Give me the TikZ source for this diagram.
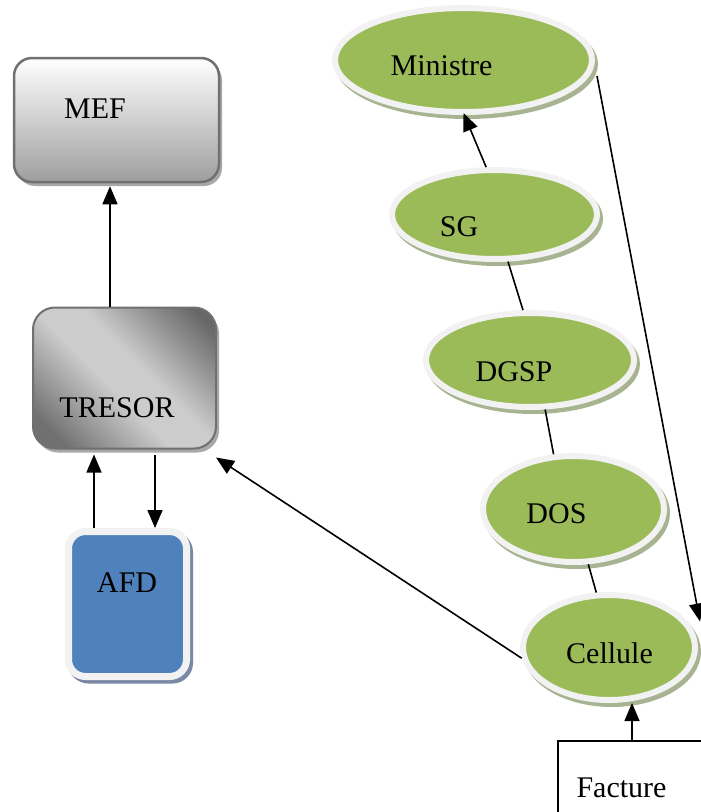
\documentclass[tikz,border=0pt]{standalone}
\usepackage{fontspec}
\setmainfont{Liberation Serif}
\usetikzlibrary{arrows.meta,shapes.geometric,shadows,calc}

\definecolor{leaf}{HTML}{9BBB59}
\definecolor{ring}{HTML}{F2F2F2}
\definecolor{leafshadow}{RGB}{168,180,145}
\definecolor{afdblue}{HTML}{4F81BD}
\definecolor{afdshadow}{RGB}{120,136,165}
\definecolor{boxedge}{HTML}{707070}
\definecolor{boxshadow}{RGB}{168,168,168}
\definecolor{mefbottom}{RGB}{158,158,158}
\definecolor{tdk}{RGB}{112,112,112}
\definecolor{tdkb}{RGB}{104,104,104}
\definecolor{tlt}{RGB}{204,204,204}

% diagonal grey sheen of the TRESOR box
\pgfdeclarehorizontalshading{tresorfill}{100bp}{color(0bp)=(tdk); color(22bp)=(tdk); color(45bp)=(tlt); color(56bp)=(tlt); color(80bp)=(tdkb); color(100bp)=(tdkb)}

\begin{document}
\begin{tikzpicture}[x=1pt,y=-1pt,
  lbl/.style={font=\fontsize{30}{32}\selectfont, anchor=base, inner sep=0},
  arr/.style={-{Triangle[length=18pt,width=15pt]}, line width=1.6pt},
  link/.style={line width=1.6pt},
  oval/.style={ellipse, fill=leaf, draw=ring, line width=6pt, inner sep=0pt, outer sep=3pt,
    drop shadow={shadow xshift=3pt, shadow yshift=-4pt, fill=leafshadow,
                 draw=leafshadow, line width=6pt, opacity=1}},
]
\useasboundingbox (0,0) rectangle (701,812);
\clip (0,0) rectangle (701,812);

% left column: boxes
\node[rectangle, rounded corners=18pt, minimum width=205pt, minimum height=124pt,
      draw=boxedge, line width=2.5pt, top color=white, bottom color=mefbottom,
      drop shadow={shadow xshift=3pt, shadow yshift=-4pt, fill=boxshadow, opacity=1}]
      (mef) at (116.5,120) {};
\node[rectangle, rounded corners=22pt, minimum width=183pt, minimum height=141pt,
      draw=boxedge, line width=2pt, shade, shading=tresorfill, shading angle=45,
      drop shadow={shadow xshift=3pt, shadow yshift=-4pt, fill=boxshadow, opacity=1}]
      (tresor) at (124.5,378) {};
\node[rectangle, rounded corners=17pt, minimum width=118pt, minimum height=145pt,
      fill=afdblue, draw=ring, line width=7pt, outer sep=3.5pt,
      drop shadow={shadow xshift=3pt, shadow yshift=-3.5pt, fill=afdshadow,
                   draw=afdshadow, line width=7pt, opacity=1}]
      (afd) at (127.5,604) {};

% right column: chain of ovals
\node[oval, minimum width=257pt, minimum height=104pt] (ministre) at (463.5,60) {};
\node[oval, minimum width=205pt, minimum height=89pt] (sg) at (494.5,214.5) {};
\node[oval, minimum width=208pt, minimum height=94pt] (dgsp) at (530,360) {};
\node[oval, minimum width=181pt, minimum height=106pt] (dos) at (573.5,509) {};
\node[oval, minimum width=172pt, minimum height=105pt] (cellule) at (609,647.5) {};

\node[rectangle, draw, line width=1.5pt, minimum width=220pt, minimum height=120pt,
      inner sep=0pt, anchor=north west] (facture) at (557,740) {};

% texts
\node[lbl] (tmef) at (95,118) {MEF};
\node[lbl] (ttresor) at (117,417) {TRESOR};
\node[lbl] (tafd) at (127,592) {AFD};
\node[lbl] (tministre) at (441.5,75) {Ministre};
\node[lbl] (tsg) at (459,236) {SG};
\node[lbl] (tdgsp) at (514,381) {DGSP};
\node[lbl] (tdos) at (556.5,523) {DOS};
\node[lbl] (tcellule) at (609.5,663) {Cellule};
\node[lbl] (tfacture) at (621.5,797) {Facture};

% connectors
\draw[arr] ($(tresor.north)+(-14.5,0)$) -- ($(mef.south)+(-6.5,3)$);
\draw[arr] ($(afd.north)+(-33.5,0)$) -- ($(tresor.south)+(-30.5,5)$);
\draw[arr] ($(tresor.south)+(30.5,5)$) -- ($(afd.north)+(27.5,0)$);
\draw[arr] (cellule.187) -- ($(tresor.south east)+(-1,8)$);

\draw[arr] (sg.100) -- ($(ministre.south)+(0,-2)$);
\draw[link] (sg.-74) -- (dgsp.98);
\draw[link] (dgsp.-73) -- (dos.110);
\draw[link] (dos.-75) -- (cellule.103);
\draw[arr] ($(ministre.east)+(2,16)$) -- ($(cellule.east)+(2,-26)$);

\coordinate (fx) at ($(facture.north west)+(75,0)$);
\draw[arr] (fx) -- (fx |- cellule.south);
\end{tikzpicture}
\end{document}
